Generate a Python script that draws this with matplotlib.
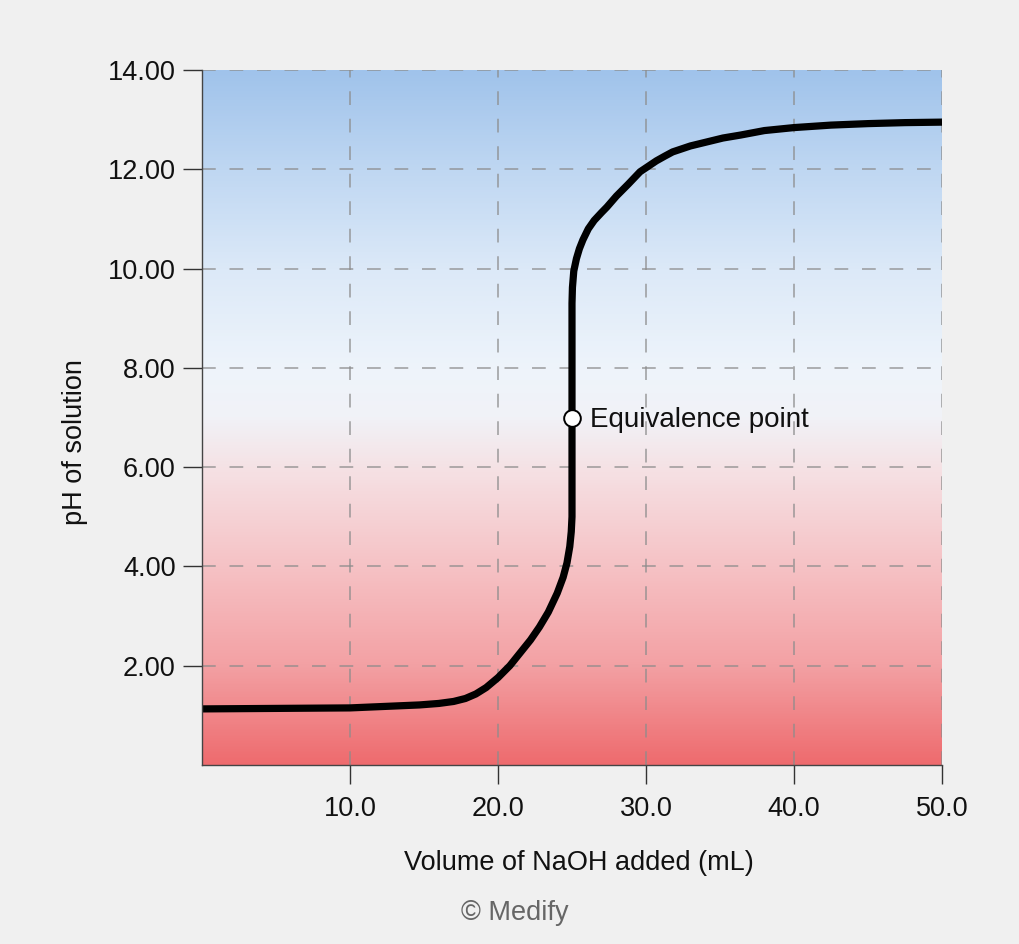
import numpy as np
import matplotlib
matplotlib.use("Agg")
import matplotlib.pyplot as plt
from matplotlib.colors import LinearSegmentedColormap

plt.rcParams['font.family'] = ['Liberation Sans', 'DejaVu Sans']

# Titration curve data
volume = [0, 5, 10, 14.7, 16.0, 17.0, 17.8, 18.5, 19.2, 20.0, 20.8, 21.5, 22.2, 22.8,
          23.4, 24.0, 24.4, 24.66, 24.85, 24.95, 25.0,
          25.0, 25.03, 25.12, 25.3, 25.5, 25.74, 26.1, 26.5, 27.0, 27.36, 28.0, 28.8,
          29.6, 30.2, 30.7, 31.3, 31.8, 33.0, 34.1, 35.2, 36.4, 38.0, 40.0, 42.5,
          45.0, 47.5, 50.0]
ph = [1.13, 1.14, 1.15, 1.21, 1.24, 1.28, 1.34, 1.43, 1.56, 1.76, 2.0, 2.26, 2.52, 2.78,
      3.08, 3.46, 3.78, 4.07, 4.4, 4.7, 5.0,
      9.3, 9.62, 9.95, 10.2, 10.4, 10.58, 10.8, 10.97, 11.13, 11.24, 11.46, 11.7,
      11.95, 12.07, 12.17, 12.27, 12.35, 12.47, 12.55, 12.63, 12.69, 12.78, 12.84, 12.89,
      12.92, 12.94, 12.95]

eq_volume = 25.0
eq_ph = 7.0
eq_label = "Equivalence point"

x_ticks = [10, 20, 30, 40, 50]
x_tick_labels = ["10.0", "20.0", "30.0", "40.0", "50.0"]
y_ticks = [2, 4, 6, 8, 10, 12, 14]
y_tick_labels = ["2.00", "4.00", "6.00", "8.00", "10.00", "12.00", "14.00"]

x_label = "Volume of NaOH added (mL)"
y_label = "pH of solution"
credit = "© Medify"

bg = "#f0f0f0"
fig = plt.figure(figsize=(10.2, 9.44), dpi=100, facecolor=bg)
ax = fig.add_axes([202/1020, 1-765/944, 740/1020, 695/944])
ax.set_facecolor(bg)

# background gradient (pH scale: red acidic -> blue basic)
stops = [(0.0, "#ee6b6e"), (2/14, "#f3a1a4"), (4/14, "#f6c2c5"), (6/14, "#f5e2e5"),
         (7/14, "#f1f2f7"), (8/14, "#eef4fb"), (10/14, "#dce9f8"), (12/14, "#bfd7f2"),
         (1.0, "#a0c3eb")]
cmap = LinearSegmentedColormap.from_list("phgrad", stops)
grad = np.linspace(0, 1, 512).reshape(-1, 1)
ax.imshow(grad, cmap=cmap, origin="lower", extent=[0, 50, 0, 14], aspect="auto",
          zorder=0, interpolation="bilinear")

ax.set_xlim(0, 50)
ax.set_ylim(0, 14)

# grid
for xv in x_ticks:
    ax.axvline(xv, color="#8c8c8c", lw=1.1, ls=(0, (9, 9)), zorder=1, alpha=0.85)
for yv in y_ticks:
    ax.axhline(yv, color="#8c8c8c", lw=1.1, ls=(0, (9, 9)), zorder=1, alpha=0.85)

ax.plot(volume, ph, color="black", lw=5.2, solid_capstyle="butt",
        solid_joinstyle="round", zorder=3)
ax.plot([eq_volume], [eq_ph], marker="o", ms=12, mfc="white", mec="black", mew=1.4,
        zorder=4, ls="none")
ax.annotate(eq_label, xy=(eq_volume, eq_ph), xytext=(13, -2), textcoords="offset points",
            fontsize=20, va="center", ha="left", color="#111111", zorder=5)

for s in ["top", "right"]:
    ax.spines[s].set_visible(False)
for s in ["left", "bottom"]:
    ax.spines[s].set_color("#444444")
    ax.spines[s].set_linewidth(1.0)
    ax.spines[s].set_zorder(6)

ax.set_xticks(x_ticks)
ax.set_xticklabels(x_tick_labels)
ax.set_yticks(y_ticks)
ax.set_yticklabels(y_tick_labels)
ax.tick_params(axis="both", direction="out", length=14, width=1.0, color="#333333",
               labelsize=19.5, labelcolor="#111111")
ax.tick_params(axis="x", pad=8)
ax.tick_params(axis="y", pad=5)

fig.text(579/1020, 1-863/944, x_label, ha="center", va="center", fontsize=19.5,
         color="#111111")
fig.text(75/1020, 1-442/944, y_label, ha="center", va="center", rotation=90,
         fontsize=19.5, color="#111111")
fig.text(515/1020, 1-913/944, credit, ha="center", va="center", fontsize=19.5,
         color="#666666")

fig.savefig("out.png", dpi=100, facecolor=bg)
